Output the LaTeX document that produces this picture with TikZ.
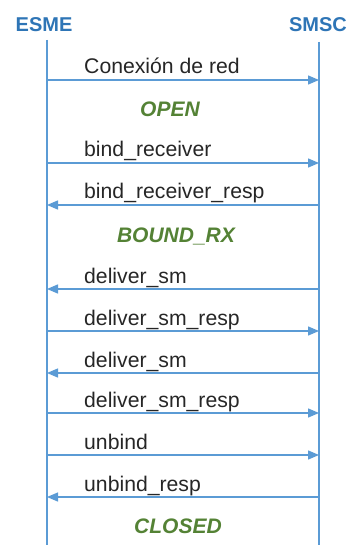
\documentclass[tikz,border=0pt]{standalone}
\usepackage{fontspec}
\setmainfont{Liberation Sans}
\usetikzlibrary{positioning, arrows.meta}

\definecolor{lifeblue}{RGB}{91,155,213}
\definecolor{roleblue}{RGB}{46,117,182}
\definecolor{stategreen}{RGB}{84,130,53}
\definecolor{msgtext}{RGB}{38,38,38}

\begin{document}
\begin{tikzpicture}[
  x=1pt, y=-1pt,
  role/.style={font=\fontsize{20}{24}\selectfont\bfseries, text=roleblue, inner sep=0pt},
  lifeline/.style={lifeblue, line width=1.3pt},
  msg/.style={-{Triangle[length=11pt, width=9pt]}, lifeblue, line width=1.3pt},
  msglabel/.style={font=\fontsize{21.2}{24}\selectfont, text=msgtext, inner sep=0pt, anchor=base west},
  statelabel/.style={font=\fontsize{21}{24}\selectfont\bfseries\itshape, text=stategreen, inner sep=0pt, anchor=base},
]
\useasboundingbox (0,0) rectangle (355,545);

% Roles and lifelines
\node[role, anchor=base] (esme) at (44,32) {ESME};
\node[role, anchor=base] (smsc) at (318,32) {SMSC};
\coordinate (esmeTop) at (47,40);
\coordinate (esmeBot) at (47,545);
\coordinate (smscTop) at (319,42);
\coordinate (smscBot) at (319,545);
\draw[lifeline] (esmeTop) -- (esmeBot);
\draw[lifeline] (smscTop) -- (smscBot);

% Messages (number / height / from / to / text)
\foreach \i/\y/\a/\b/\txt in {
    1/80/e/s/{Conexión de red},
    2/163/e/s/{bind\_receiver},
    3/205/s/e/{bind\_receiver\_resp},
    4/289/s/e/{deliver\_sm},
    5/331/e/s/{deliver\_sm\_resp},
    6/373/s/e/{deliver\_sm},
    7/413/e/s/{deliver\_sm\_resp},
    8/455/e/s/{unbind},
    9/497/s/e/{unbind\_resp}} {
  \coordinate (e\i) at (47,\y);
  \coordinate (s\i) at (319,\y);
  \draw[msg] (\a\i) -- (\b\i);
  \node[msglabel] (t\i) at ([xshift=37pt, yshift=6pt]e\i) {\txt};
}

% Session states
\node[statelabel] (open) at (170,117) {OPEN};
\node[statelabel] (bound) at (176,242) {BOUND\_RX};
\node[statelabel] (closed) at (178,533) {CLOSED};

\end{tikzpicture}
\end{document}
